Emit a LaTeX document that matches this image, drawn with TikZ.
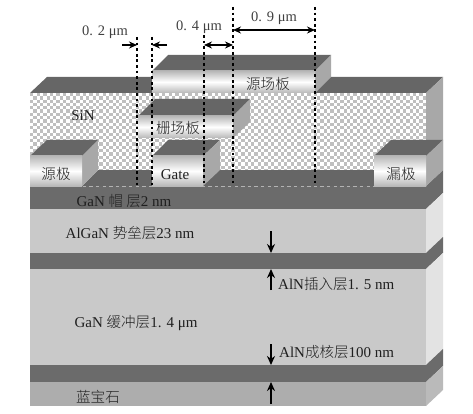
\documentclass[tikz,border=0pt]{standalone}
\usepackage{fontspec}
\setmainfont{Liberation Serif}
\newfontfamily\cjk{Noto Sans CJK SC Light}[Scale=0.97]
\usetikzlibrary{arrows.meta}
\definecolor{facedark}{gray}{0.42}
\definecolor{topdark}{gray}{0.40}
\definecolor{sidemid}{gray}{0.66}
\definecolor{barrier}{gray}{0.79}
\definecolor{sapph}{gray}{0.68}
\definecolor{sidelight}{gray}{0.89}
\definecolor{platerim}{gray}{0.72}
\tikzset{
  dim/.style={-{Stealth[length=8pt,width=7pt]},line width=1.3pt,black},
  dimboth/.style={{Stealth[length=8pt,width=7pt]}-{Stealth[length=8pt,width=7pt]},line width=1.3pt,black},
  thick arrow/.style={-{Stealth[length=9pt,width=8pt]},line width=1.5pt,black},
  dotline/.style={line width=2.8pt,black,dash pattern=on 2.8pt off 2.8pt},
  lab/.style={inner sep=0pt,font=\fontsize{15}{15}\selectfont,text=black!88},
  dimlab/.style={inner sep=0pt,font=\fontsize{14.5}{14.5}\selectfont,text=black!75},
  plate/.style={top color=platerim,bottom color=platerim,middle color=white}
}
\begin{document}
\begin{tikzpicture}[x=1pt,y=-1pt]
\useasboundingbox (0,0) rectangle (473,414);
% stacked layers, front faces
\fill[facedark] (30,186) rectangle (426,209);
\fill[barrier] (30,209) rectangle (426,253);
\fill[facedark] (30,253) rectangle (426,269);
\fill[barrier] (30,269) rectangle (426,365);
\fill[facedark] (30,365) rectangle (426,382);
\fill[sapph] (30,382) rectangle (426,406);
% stacked layers, right sides
\fill[facedark] (426,186) -- (443,170) -- (443,193) -- (426,209) -- cycle;
\fill[sidelight] (426,209) -- (443,193) -- (443,237) -- (426,253) -- cycle;
\fill[facedark] (426,253) -- (443,237) -- (443,253) -- (426,269) -- cycle;
\fill[sidelight] (426,269) -- (443,253) -- (443,349) -- (426,365) -- cycle;
\fill[facedark] (426,365) -- (443,349) -- (443,366) -- (426,382) -- cycle;
\fill[sidemid!80!white] (426,382) -- (443,366) -- (443,390) -- (426,406) -- cycle;
% SiN with checker
\fill[white] (30,93) rectangle (426,186);
\begin{scope}
\clip (30,93) rectangle (426,186);
\foreach \i in {0,...,120}{
  \foreach \j in {0,...,28}{
    \pgfmathparse{int(mod(\i+\j,2))}
    \ifnum\pgfmathresult=0
      \fill[black!25] ({30+\i*3.3},{93+\j*3.3}) rectangle ++(3.3,3.3);
    \fi
  }
}
\end{scope}
\fill[topdark] (30,93) -- (47,77) -- (443,77) -- (426,93) -- cycle;
\fill[sidemid] (426,93) -- (443,77) -- (443,170) -- (426,186) -- cycle;
% floor strip of cap layer
\fill[topdark] (82,186) -- (98,170) -- (426,170) -- (426,186) -- cycle;
% source field plate
\fill[topdark] (152,71) -- (168,55) -- (331,55) -- (315,71) -- cycle;
\fill[sidemid] (315,71) -- (331,55) -- (331,77) -- (315,93) -- cycle;
\fill[plate] (152,71) rectangle (315,93);
% gate field plate
\fill[topdark] (138,116) -- (155,99) -- (250,99) -- (233,116) -- cycle;
\fill[sidemid] (233,116) -- (250,99) -- (250,122) -- (233,138) -- cycle;
\fill[plate] (138,116) rectangle (233,138);
% source
\fill[topdark] (30,156) -- (47,140) -- (98,140) -- (82,156) -- cycle;
\fill[sidemid] (82,156) -- (98,140) -- (98,170) -- (82,186) -- cycle;
\fill[plate] (30,156) rectangle (82,186);
% gate
\fill[topdark] (152,156) -- (168,140) -- (220,140) -- (203,156) -- cycle;
\fill[sidemid] (203,156) -- (220,140) -- (220,170) -- (203,186) -- cycle;
\fill[plate] (152,156) rectangle (203,186);
% drain
\fill[topdark] (374,156) -- (391,140) -- (443,140) -- (426,156) -- cycle;
\fill[sidemid] (426,156) -- (443,140) -- (443,170) -- (426,186) -- cycle;
\fill[plate] (374,156) rectangle (426,186);
% dotted guide lines
\coordinate (d1t) at (137,37); \coordinate (d1b) at (137,186);
\coordinate (d2t) at (152,37); \coordinate (d2b) at (152,186);
\coordinate (d3t) at (204,35); \coordinate (d3b) at (204,186);
\coordinate (d4t) at (233,7);  \coordinate (d4b) at (233,186);
\coordinate (d5t) at (315,7);  \coordinate (d5b) at (315,186);
\foreach \n in {1,...,5} \draw[dotline] (d\n t) -- (d\n b);
% dimension arrows
\coordinate (a1) at (122,45); \coordinate (a2) at (137,45);
\coordinate (a3) at (167,45); \coordinate (a4) at (152,45);
\coordinate (a5) at (204,45); \coordinate (a6) at (233,45);
\coordinate (a7) at (233,30); \coordinate (a8) at (315,30);
\draw[dim] (a1) -- (a2);
\draw[dim] (a3) -- (a4);
\draw[dimboth] (a5) -- (a6);
\draw[dimboth] (a7) -- (a8);
% thickness arrows
\coordinate (t1) at (271,231); \coordinate (t2) at (271,253);
\coordinate (t3) at (271,290); \coordinate (t4) at (271,269);
\coordinate (t5) at (271,344); \coordinate (t6) at (271,365);
\coordinate (t7) at (271,404); \coordinate (t8) at (271,382);
\draw[thick arrow] (t1) -- (t2);
\draw[thick arrow] (t3) -- (t4);
\draw[thick arrow] (t5) -- (t6);
\draw[thick arrow] (t7) -- (t8);
% labels
\node[dimlab] (l02) at (105,32) {0. 2 μm};
\node[dimlab] (l04) at (199,27) {0. 4 μm};
\node[dimlab] (l09) at (274,18) {0. 9 μm};
\node[lab] (lsin) at (83,116) {SiN};
\node[lab] (lyc) at (268,84) {\cjk 源场板};
\node[lab] (lzc) at (178,128) {\cjk 栅场板};
\node[lab] (lyj) at (56,174) {\cjk 源极};
\node[lab] (lgate) at (175,175) {Gate};
\node[lab] (llj) at (401,174) {\cjk 漏极};
\node[lab] (lcap) at (124,201) {GaN {\cjk 帽 层}2 nm};
\node[lab] (lalgan) at (130,233) {AlGaN {\cjk 势垒层}23 nm};
\node[lab] (lbuf) at (136,323) {GaN {\cjk 缓冲层}1. 4 μm};
\node[lab] (lsap) at (98,397) {\cjk 蓝宝石};
\node[lab,anchor=west] (lins) at (278,284) {AlN{\cjk 插入层}1. 5 nm};
\node[lab,anchor=west] (lnuc) at (279,352) {AlN{\cjk 成核层}100 nm};
\end{tikzpicture}
\end{document}
